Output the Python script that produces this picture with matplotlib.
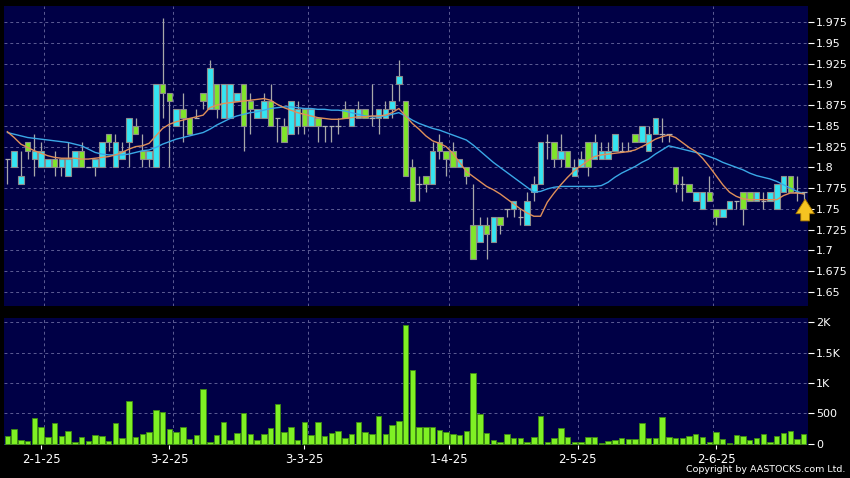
import numpy as np
import matplotlib
matplotlib.use("Agg")
import matplotlib.pyplot as plt

# daily candles (index 0 = first bar on the left)
opens = [1.81, 1.80, 1.78, 1.83, 1.81, 1.80, 1.80, 1.81, 1.80, 1.79,
         1.80, 1.82, 1.80, 1.80, 1.80, 1.84, 1.80, 1.81, 1.83, 1.85,
         1.82, 1.81, 1.80, 1.90, 1.89, 1.85, 1.87, 1.86, 1.86, 1.89,
         1.87, 1.90, 1.86, 1.86, 1.88, 1.90, 1.88, 1.86, 1.86, 1.88,
         1.86, 1.85, 1.84, 1.85, 1.87, 1.85, 1.86, 1.85, 1.85, 1.85,
         1.87, 1.85, 1.86, 1.87, 1.86, 1.86, 1.86, 1.87, 1.90, 1.88,
         1.80, 1.78, 1.79, 1.78, 1.83, 1.82, 1.82, 1.80, 1.80, 1.73,
         1.71, 1.73, 1.71, 1.74, 1.75, 1.75, 1.74, 1.73, 1.77, 1.78,
         1.83, 1.83, 1.81, 1.82, 1.79, 1.80, 1.83, 1.81, 1.81, 1.81,
         1.82, 1.82, 1.82, 1.84, 1.83, 1.82, 1.84, 1.84, 1.84, 1.80,
         1.78, 1.78, 1.76, 1.75, 1.77, 1.75, 1.74, 1.75, 1.76, 1.77,
         1.77, 1.76, 1.76, 1.76, 1.75, 1.77, 1.79, 1.77, 1.77]
highs = [1.81, 1.82, 1.82, 1.83, 1.84, 1.83, 1.81, 1.82, 1.81, 1.83,
         1.82, 1.83, 1.80, 1.81, 1.83, 1.84, 1.84, 1.83, 1.86, 1.86,
         1.84, 1.82, 1.90, 1.98, 1.89, 1.87, 1.89, 1.86, 1.87, 1.89,
         1.93, 1.90, 1.90, 1.90, 1.89, 1.90, 1.89, 1.87, 1.89, 1.90,
         1.86, 1.86, 1.88, 1.88, 1.87, 1.87, 1.86, 1.85, 1.85, 1.86,
         1.88, 1.87, 1.88, 1.87, 1.90, 1.87, 1.88, 1.90, 1.93, 1.88,
         1.81, 1.79, 1.79, 1.83, 1.84, 1.82, 1.83, 1.81, 1.80, 1.78,
         1.74, 1.74, 1.74, 1.74, 1.75, 1.76, 1.75, 1.77, 1.79, 1.83,
         1.84, 1.83, 1.84, 1.82, 1.81, 1.82, 1.83, 1.84, 1.83, 1.83,
         1.84, 1.83, 1.83, 1.84, 1.85, 1.85, 1.86, 1.86, 1.84, 1.80,
         1.79, 1.78, 1.77, 1.77, 1.79, 1.75, 1.75, 1.76, 1.76, 1.77,
         1.77, 1.77, 1.77, 1.77, 1.78, 1.79, 1.79, 1.79, 1.77]
lows = [1.78, 1.80, 1.78, 1.81, 1.79, 1.80, 1.80, 1.79, 1.79, 1.79,
        1.80, 1.80, 1.80, 1.79, 1.80, 1.82, 1.80, 1.81, 1.80, 1.84,
        1.80, 1.80, 1.80, 1.86, 1.80, 1.85, 1.83, 1.84, 1.86, 1.87,
        1.87, 1.86, 1.86, 1.86, 1.88, 1.82, 1.84, 1.86, 1.86, 1.85,
        1.83, 1.83, 1.84, 1.84, 1.84, 1.85, 1.83, 1.83, 1.83, 1.84,
        1.86, 1.85, 1.86, 1.86, 1.85, 1.84, 1.86, 1.86, 1.88, 1.79,
        1.76, 1.76, 1.77, 1.78, 1.81, 1.79, 1.80, 1.80, 1.78, 1.69,
        1.71, 1.69, 1.71, 1.72, 1.74, 1.74, 1.73, 1.73, 1.76, 1.78,
        1.81, 1.80, 1.80, 1.80, 1.79, 1.80, 1.79, 1.81, 1.81, 1.81,
        1.82, 1.82, 1.82, 1.83, 1.83, 1.82, 1.84, 1.83, 1.83, 1.77,
        1.76, 1.77, 1.76, 1.75, 1.76, 1.73, 1.74, 1.75, 1.75, 1.73,
        1.76, 1.76, 1.75, 1.76, 1.75, 1.77, 1.77, 1.76, 1.76]
closes = [1.81, 1.82, 1.79, 1.82, 1.82, 1.82, 1.81, 1.80, 1.81, 1.81,
          1.82, 1.80, 1.80, 1.81, 1.83, 1.83, 1.83, 1.82, 1.86, 1.84,
          1.81, 1.82, 1.90, 1.89, 1.88, 1.87, 1.86, 1.84, 1.86, 1.88,
          1.92, 1.87, 1.90, 1.90, 1.89, 1.85, 1.87, 1.87, 1.88, 1.85,
          1.86, 1.83, 1.88, 1.87, 1.85, 1.87, 1.85, 1.85, 1.85, 1.85,
          1.86, 1.87, 1.87, 1.86, 1.86, 1.87, 1.87, 1.88, 1.91, 1.79,
          1.76, 1.78, 1.78, 1.82, 1.82, 1.81, 1.80, 1.81, 1.79, 1.69,
          1.73, 1.72, 1.74, 1.73, 1.75, 1.76, 1.74, 1.76, 1.78, 1.83,
          1.83, 1.81, 1.82, 1.80, 1.80, 1.81, 1.80, 1.83, 1.82, 1.82,
          1.84, 1.82, 1.82, 1.83, 1.85, 1.84, 1.86, 1.84, 1.84, 1.78,
          1.78, 1.77, 1.77, 1.77, 1.76, 1.74, 1.75, 1.76, 1.76, 1.75,
          1.76, 1.77, 1.76, 1.77, 1.78, 1.79, 1.77, 1.77, 1.77]
volumes = [126, 242, 60, 44, 423, 280, 104, 335, 132, 209,
           22, 104, 44, 143, 126, 38, 340, 93, 703, 115,
           159, 192, 560, 522, 247, 192, 280, 82, 148, 906,
           22, 143, 357, 55, 170, 500, 165, 60, 165, 258,
           648, 192, 269, 66, 362, 148, 362, 126, 170, 203,
           99, 154, 351, 187, 159, 461, 159, 307, 368, 1955,
           1208, 280, 280, 280, 225, 198, 154, 137, 214, 1158,
           494, 170, 60, 22, 154, 93, 99, 22, 104, 456,
           22, 93, 258, 104, 33, 33, 110, 110, 11, 44,
           55, 88, 71, 71, 346, 99, 99, 434, 110, 93,
           93, 126, 165, 110, 33, 198, 71, 11, 143, 132,
           55, 88, 159, 33, 126, 170, 203, 77, 165]
# moving averages as drawn on the reference
ma_short = [1.843, 1.836, 1.828, 1.824, 1.820, 1.817, 1.814, 1.812, 1.811, 1.811,
            1.811, 1.810, 1.810, 1.811, 1.812, 1.813, 1.815, 1.818, 1.822, 1.825,
            1.826, 1.829, 1.838, 1.847, 1.852, 1.855, 1.857, 1.859, 1.861, 1.863,
            1.872, 1.875, 1.877, 1.878, 1.879, 1.880, 1.881, 1.882, 1.883, 1.881,
            1.876, 1.872, 1.869, 1.866, 1.864, 1.862, 1.860, 1.859, 1.858, 1.858,
            1.859, 1.860, 1.861, 1.861, 1.862, 1.862, 1.863, 1.866, 1.871, 1.862,
            1.853, 1.846, 1.838, 1.832, 1.829, 1.825, 1.817, 1.806, 1.795, 1.789,
            1.783, 1.777, 1.773, 1.768, 1.762, 1.756, 1.750, 1.745, 1.741, 1.741,
            1.758, 1.769, 1.779, 1.788, 1.796, 1.802, 1.808, 1.813, 1.815, 1.816,
            1.817, 1.818, 1.819, 1.821, 1.825, 1.829, 1.834, 1.837, 1.839, 1.836,
            1.830, 1.824, 1.819, 1.811, 1.801, 1.790, 1.779, 1.770, 1.765, 1.762,
            1.761, 1.761, 1.761, 1.761, 1.761, 1.766, 1.769, 1.769, 1.768]
ma_long = [1.842, 1.840, 1.838, 1.836, 1.835, 1.834, 1.833, 1.832, 1.831, 1.830,
           1.828, 1.826, 1.822, 1.818, 1.816, 1.815, 1.815, 1.815, 1.816, 1.818,
           1.820, 1.821, 1.824, 1.828, 1.831, 1.834, 1.836, 1.838, 1.840, 1.842,
           1.846, 1.851, 1.855, 1.859, 1.862, 1.864, 1.866, 1.867, 1.869, 1.871,
           1.872, 1.873, 1.873, 1.872, 1.871, 1.871, 1.870, 1.870, 1.869, 1.869,
           1.868, 1.866, 1.864, 1.862, 1.861, 1.861, 1.862, 1.864, 1.866, 1.862,
           1.857, 1.853, 1.850, 1.847, 1.845, 1.842, 1.839, 1.836, 1.833, 1.827,
           1.820, 1.813, 1.806, 1.800, 1.794, 1.788, 1.782, 1.776, 1.770, 1.771,
           1.774, 1.776, 1.777, 1.777, 1.777, 1.777, 1.777, 1.777, 1.778, 1.782,
           1.788, 1.793, 1.797, 1.801, 1.806, 1.810, 1.816, 1.821, 1.826, 1.824,
           1.822, 1.820, 1.818, 1.816, 1.813, 1.810, 1.806, 1.803, 1.800, 1.797,
           1.793, 1.790, 1.788, 1.786, 1.783, 1.779, 1.775, 1.771, 1.768]

date_labels = ["2-1-25", "3-2-25", "3-3-25", "1-4-25", "2-5-25", "2-6-25"]
date_pos = [5, 24, 44, 65.5, 84.5, 105]
grid_pos = [5.5, 24.5, 44.5, 65.5, 84.5, 104.5]
price_ticks = [1.65, 1.675, 1.7, 1.725, 1.75, 1.775, 1.8, 1.825, 1.85,
               1.875, 1.9, 1.925, 1.95, 1.975]
vol_ticks = [0, 500, 1000, 1500, 2000]
vol_tick_labels = ["0", "500", "1K", "1.5K", "2K"]

BG = "#000046"
GRID = "#5c5c94"
UP = "#35e4f2"
DOWN = "#80e52a"
EDGE = "#8c8c8c"

o = np.array(opens)
h = np.array(highs)
l = np.array(lows)
c = np.array(closes)
x = np.arange(len(o))

fig = plt.figure(figsize=(8.5, 4.78), dpi=100, facecolor="black")
ax1 = fig.add_axes([4 / 850, 1 - 306 / 478, 803.5 / 850, 300 / 478])
ax2 = fig.add_axes([4 / 850, 1 - 445 / 478, 803.5 / 850, 126.7 / 478])

for ax in (ax1, ax2):
    ax.set_facecolor(BG)
    for s in ax.spines.values():
        s.set_visible(False)
    ax.set_xlim(-0.5, len(o) - 0.45)
    ax.yaxis.tick_right()
    ax.tick_params(axis="y", colors="white", labelsize=8, length=4, width=0.8, pad=2)
    ax.grid(axis="y", color=GRID, linestyle=(0, (3, 3)), linewidth=0.7)
    for g in grid_pos:
        ax.axvline(g, color=GRID, linestyle=(0, (3, 3)), linewidth=0.7, zorder=0.5)
    ax.set_axisbelow(True)

# price panel
ax1.vlines(x, l, h, color="#a8a8a8", linewidth=0.9, zorder=2)
up = c > o
down = c < o
flat = c == o
ax1.bar(x[up], (c - o)[up], bottom=o[up], width=0.82, color=UP,
        edgecolor=EDGE, linewidth=0.8, zorder=3)
ax1.bar(x[down], (o - c)[down], bottom=c[down], width=0.82, color=DOWN,
        edgecolor=EDGE, linewidth=0.8, zorder=3)
ax1.hlines(c[flat], x[flat] - 0.41, x[flat] + 0.41, color="#b0b0b0",
           linewidth=0.9, zorder=3)
ax1.plot(x, ma_long, color="#3aa8e6", linewidth=1.0, zorder=4)
ax1.plot(x, ma_short, color="#e0905a", linewidth=1.0, zorder=4)

# last-price marker
ax1.annotate("", xy=(x[-1] + 0.2, 1.765), xytext=(x[-1] + 0.2, 1.732),
             arrowprops=dict(arrowstyle="simple,head_width=0.95,head_length=0.75,tail_width=0.45",
                             fc="#f6c421", ec="#a87800", lw=0.6, mutation_scale=14),
             zorder=6)

ax1.set_ylim(1.6327, 1.9947)
ax1.set_yticks(price_ticks)
ax1.set_yticklabels([f"{t:.3f}".rstrip("0").rstrip(".") for t in price_ticks])
ax1.set_xticks([])

# volume panel
ax2.bar(x, volumes, width=0.8, color="#7ff024", edgecolor="#3e8c12",
        linewidth=0.6, zorder=3)
ax2.set_ylim(-21, 2066)
ax2.set_yticks(vol_ticks)
ax2.set_yticklabels(vol_tick_labels)
ax2.set_xticks(date_pos)
ax2.set_xticklabels(date_labels)
ax2.tick_params(axis="x", colors="white", labelsize=8.5, length=3, width=0.8, pad=3)

fig.text(0.995, 0.008, "Copyright by AASTOCKS.com Ltd.", color="white",
         fontsize=6.8, ha="right", va="bottom")

fig.savefig("out.png", dpi=100, facecolor="black")
